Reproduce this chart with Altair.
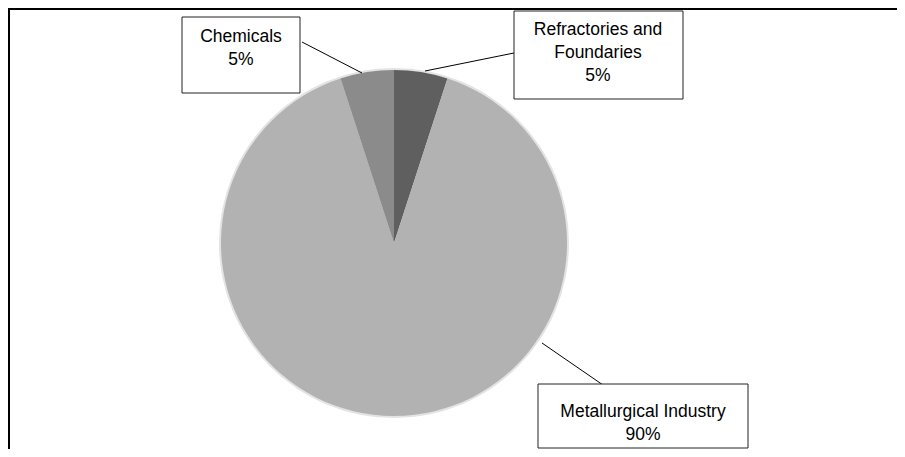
import altair as alt
import pandas as pd

# ---- data ----
categories = ["Refractories and Foundaries", "Metallurgical Industry", "Chemicals"]
shares = [5, 90, 5]
name_lines = [["Refractories and", "Foundaries"], ["Metallurgical Industry"], ["Chemicals"]]
colors = ["#5f5f5f", "#b2b2b2", "#8b8b8b"]

# ---- layout (pixels inside the chart) ----
W, H = 889, 441
cx, cy, R = 386, 235, 173
box_x0 = [506, 530, 174]
box_x1 = [675, 740, 292]
box_y0 = [3, 376, 9]
box_y1 = [91, 444, 85]
text_x = [590, 635, 233]
text_y0 = [22, 404, 29]
line_step = 23
lead_x1 = [417, 534, 354]
lead_y1 = [63, 335, 65]
lead_x2 = [506, 595, 294]
lead_y2 = [45, 377, 34]

pie_df = pd.DataFrame({"category": categories, "share": shares, "order": list(range(len(categories)))})

box_df = pd.DataFrame({"x": box_x0, "x2": box_x1, "y": box_y0, "y2": [min(v, H - 1) for v in box_y1]})
lead_df = pd.DataFrame({"x": lead_x1, "y": lead_y1, "x2": lead_x2, "y2": lead_y2})

rows = []
for i, cat in enumerate(categories):
    lines = name_lines[i] + [f"{shares[i]}%"]
    for j, t in enumerate(lines):
        rows.append({"x": text_x[i], "y": text_y0[i] + j * line_step, "t": t})
text_df = pd.DataFrame(rows)

halo = alt.Chart(pd.DataFrame({"v": [sum(shares)]})).mark_arc(outerRadius=R + 2, color="#e3e3e3").encode(
    theta=alt.Theta("v:Q"), x=alt.value(cx), y=alt.value(cy)
)

pie = alt.Chart(pie_df).mark_arc(outerRadius=R).encode(
    theta=alt.Theta("share:Q", stack=True),
    order=alt.Order("order:Q"),
    color=alt.Color("category:N", scale=alt.Scale(domain=categories, range=colors), legend=None),
    x=alt.value(cx),
    y=alt.value(cy),
)

leaders = alt.Chart(lead_df).mark_rule(color="black", strokeWidth=1).encode(
    x=alt.X("x:Q", scale=None, axis=None),
    y=alt.Y("y:Q", scale=None, axis=None),
    x2="x2:Q",
    y2="y2:Q",
)

boxes = alt.Chart(box_df).mark_rect(fill="white", stroke="#222222", strokeWidth=1).encode(
    x=alt.X("x:Q", scale=None, axis=None),
    y=alt.Y("y:Q", scale=None, axis=None),
    x2="x2:Q",
    y2="y2:Q",
)

texts = alt.Chart(text_df).mark_text(
    font="Liberation Sans", fontSize=17.5, color="black", align="center", baseline="middle"
).encode(
    x=alt.X("x:Q", scale=None, axis=None),
    y=alt.Y("y:Q", scale=None, axis=None),
    text="t:N",
)

top_border = alt.Chart(pd.DataFrame({"v": [0]})).mark_rule(color="black", strokeWidth=2).encode(
    x=alt.value(0), x2=alt.value(W), y=alt.value(1)
)
left_border = alt.Chart(pd.DataFrame({"v": [0]})).mark_rule(color="black", strokeWidth=2).encode(
    x=alt.value(1), y=alt.value(0), y2=alt.value(H)
)

chart = alt.layer(halo, pie, leaders, boxes, texts, top_border, left_border).resolve_scale(
    theta="independent"
).properties(
    width=W, height=H, padding=0, autosize=alt.AutoSizeParams(type="none")
).configure_view(stroke=None)

chart.save("out.html", embed_options={"renderer": "svg", "actions": False})
